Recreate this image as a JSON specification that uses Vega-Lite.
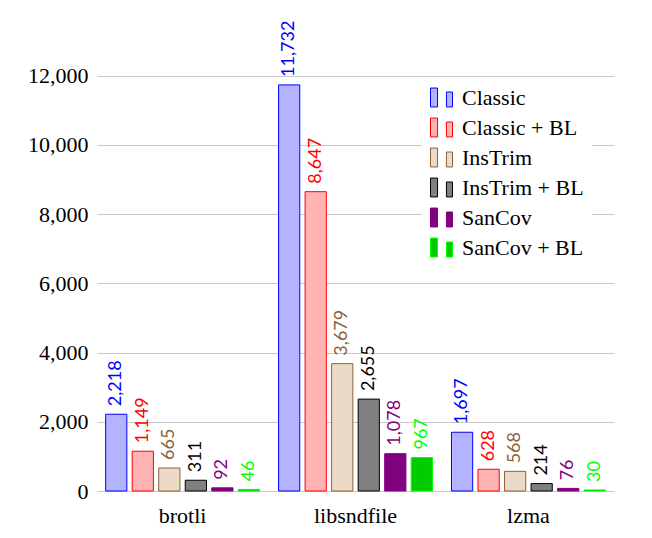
{
  "$schema": "https://vega.github.io/schema/vega-lite/v6.json",
  "width": 517,
  "height": 450,
  "autosize": {"type": "none"},
  "padding": {"left": 97, "top": 41, "right": 38, "bottom": 47},
  "background": "white",
  "data": {
    "values": [
      {"program": "brotli", "series": "Classic", "value": 2218},
      {"program": "brotli", "series": "Classic + BL", "value": 1149},
      {"program": "brotli", "series": "InsTrim", "value": 665},
      {"program": "brotli", "series": "InsTrim + BL", "value": 311},
      {"program": "brotli", "series": "SanCov", "value": 92},
      {"program": "brotli", "series": "SanCov + BL", "value": 46},
      {"program": "libsndfile", "series": "Classic", "value": 11732},
      {"program": "libsndfile", "series": "Classic + BL", "value": 8647},
      {"program": "libsndfile", "series": "InsTrim", "value": 3679},
      {"program": "libsndfile", "series": "InsTrim + BL", "value": 2655},
      {"program": "libsndfile", "series": "SanCov", "value": 1078},
      {"program": "libsndfile", "series": "SanCov + BL", "value": 967},
      {"program": "lzma", "series": "Classic", "value": 1697},
      {"program": "lzma", "series": "Classic + BL", "value": 628},
      {"program": "lzma", "series": "InsTrim", "value": 568},
      {"program": "lzma", "series": "InsTrim + BL", "value": 214},
      {"program": "lzma", "series": "SanCov", "value": 76},
      {"program": "lzma", "series": "SanCov + BL", "value": 30}
    ]
  },
  "encoding": {
    "x": {
      "field": "program", "type": "nominal", "sort": null, "title": null,
      "scale": {"paddingInner": 0.11, "paddingOuter": 0.05},
      "axis": {"domain": false, "ticks": false, "grid": false, "labelAngle": 0, "labelPadding": 14,
               "labelFont": "Liberation Serif", "labelFontSize": 22, "labelColor": "black"}
    },
    "xOffset": {
      "field": "series", "type": "nominal", "sort": null,
      "scale": {"paddingInner": 0.2, "paddingOuter": 0}
    },
    "y": {
      "field": "value", "type": "quantitative", "title": null,
      "scale": {"domain": [0, 13000], "nice": false, "zero": true},
      "axis": {"values": [0, 2000, 4000, 6000, 8000, 10000, 12000], "format": ",.0f",
               "domain": false, "ticks": false, "grid": true, "gridColor": "#c8c8c8", "gridWidth": 1,
               "labelPadding": 9, "labelFont": "Liberation Serif", "labelFontSize": 22, "labelColor": "black"}
    }
  },
  "layer": [
    {
      "mark": {"type": "bar", "strokeWidth": 1},
      "encoding": {
        "fill": {
          "field": "series", "type": "nominal", "sort": null,
          "scale": {
            "domain": ["Classic", "Classic + BL", "InsTrim", "InsTrim + BL", "SanCov", "SanCov + BL"],
            "range": ["#b3b3ff", "#ffb3b3", "#ebdac6", "#808080", "#800080", "#00cc00"]
          },
          "legend": {
            "title": null, "orient": "none", "legendX": 325, "legendY": 37,
            "padding": 8, "fillColor": "white", "strokeColor": null,
            "symbolType": "M-1,-0.86H-0.36V0.86H-1Z M0.45,-0.5H1V0.86H0.45Z",
            "symbolSize": 484, "symbolStrokeWidth": 1, "rowPadding": 7, "labelOffset": 9,
            "labelFont": "Liberation Serif", "labelFontSize": 22, "labelColor": "black", "labelLimit": 300
          }
        },
        "stroke": {
          "field": "series", "type": "nominal", "sort": null,
          "scale": {
            "domain": ["Classic", "Classic + BL", "InsTrim", "InsTrim + BL", "SanCov", "SanCov + BL"],
            "range": ["#0000ff", "#ff0000", "#8c6239", "#000000", "#800080", "#00ff00"]
          },
          "legend": {
            "title": null, "orient": "none", "legendX": 325, "legendY": 37,
            "padding": 8, "fillColor": "white", "strokeColor": null,
            "symbolType": "M-1,-0.86H-0.36V0.86H-1Z M0.45,-0.5H1V0.86H0.45Z",
            "symbolSize": 484, "symbolStrokeWidth": 1, "rowPadding": 7, "labelOffset": 9,
            "labelFont": "Liberation Serif", "labelFontSize": 22, "labelColor": "black", "labelLimit": 300
          }
        }
      }
    },
    {
      "mark": {"type": "text", "angle": 270, "align": "left", "baseline": "middle", "dx": 8,
               "font": "Lato", "fontSize": 18},
      "encoding": {
        "text": {"field": "value", "type": "quantitative", "format": ","},
        "color": {
          "field": "series", "type": "nominal", "sort": null, "legend": null,
          "scale": {
            "domain": ["Classic", "Classic + BL", "InsTrim", "InsTrim + BL", "SanCov", "SanCov + BL"],
            "range": ["#0000ff", "#ff0000", "#8c6239", "#000000", "#800080", "#00ff00"]
          }
        }
      }
    }
  ],
  "config": {"view": {"stroke": null}}
}
